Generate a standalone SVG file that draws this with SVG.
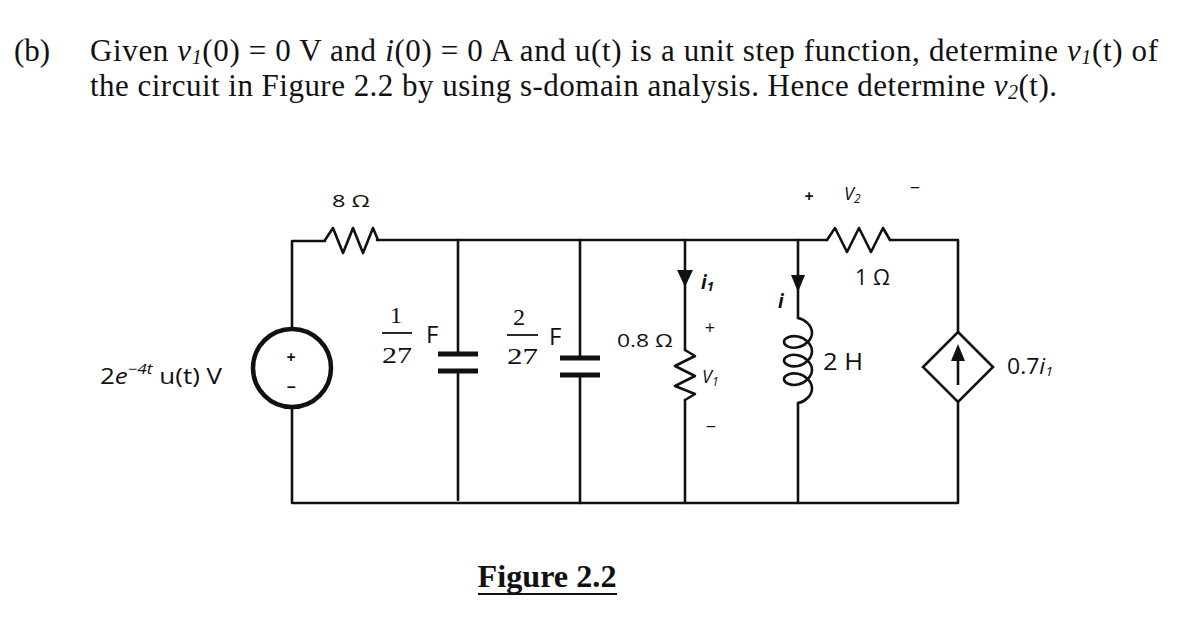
<svg xmlns="http://www.w3.org/2000/svg" width="1193" height="633" viewBox="0 0 1193 633">
<style>
.w{fill:none;stroke:#111;stroke-width:2.6;stroke-linejoin:round;stroke-linecap:round}
.plate{stroke:#111;stroke-width:5;stroke-linecap:butt}
.ah{fill:#111;stroke:none}
.t{font-family:"Liberation Serif","Times New Roman",serif;fill:#111}
.s{font-family:"Open Sans","Liberation Sans",Arial,sans-serif;fill:#111}
.m{font-family:"Liberation Serif","Times New Roman",serif;fill:#111}
</style>
<rect width="1193" height="633" fill="#fff"/>

<g id="title">
<text class="t" x="14" y="61" font-size="31">(b)</text>
<text class="t" x="90" y="61" font-size="31" textLength="1068" lengthAdjust="spacing">Given <tspan font-style="italic">v</tspan><tspan font-style="italic" font-size="20" dy="3">1</tspan><tspan dy="-3">(0) = 0 V and </tspan><tspan font-style="italic">i</tspan>(0) = 0 A and u(t) is a unit step function, determine <tspan font-style="italic">v</tspan><tspan font-style="italic" font-size="20" dy="3">1</tspan><tspan dy="-3">(t) of</tspan></text>
<text class="t" x="90" y="96" font-size="31" textLength="967" lengthAdjust="spacing">the circuit in Figure 2.2 by using s-domain analysis. Hence determine <tspan font-style="italic">v</tspan><tspan font-style="italic" font-size="20" dy="3">2</tspan><tspan dy="-3">(t).</tspan></text>
</g>

<g id="connectors">
<path class="w" d="M292,329 V241 H325"/>
<path class="w" d="M377,240 H827"/>
<path class="w" d="M890,240 H958 V332"/>
<path class="w" d="M958,402 V503 H292 V407"/>
<path class="w" d="M458,240 V353"/>
<path class="w" d="M458,372 V500"/>
<path class="w" d="M580,240 V357"/>
<path class="w" d="M580,376 V503"/>
<path class="w" d="M685,240 V350"/>
<path class="w" d="M685,400 V503"/>
<path class="w" d="M798,240 V318"/>
<path class="w" d="M798,403 V503"/>
</g>

<g id="source">
<circle cx="292" cy="368" r="39" fill="none" stroke="#111" stroke-width="4.5"/>
<text class="s" x="291" y="363" font-size="16" font-weight="bold" text-anchor="middle">+</text>
<text class="s" x="291" y="393" font-size="16" font-weight="bold" text-anchor="middle">−</text>
<text class="s" x="100" y="384" font-size="21" textLength="122" lengthAdjust="spacingAndGlyphs">2<tspan font-style="italic">e</tspan><tspan font-size="14" font-style="italic" dy="-10">−4t</tspan><tspan dy="10"> u(t) V</tspan></text>
</g>

<g id="R8">
<path class="w" d="M325,240 L333,228 L343,253 L353,228 L363,253 L373,228 L378,240"/>
<text class="s" x="332" y="207" font-size="17" textLength="38" lengthAdjust="spacingAndGlyphs">8 Ω</text>
</g>

<g id="C1">
<line class="plate" x1="438" y1="354" x2="478" y2="354"/>
<line class="plate" x1="438" y1="371" x2="478" y2="371"/>
<text class="m" x="396" y="323" font-size="24" text-anchor="middle">1</text>
<line x1="382" y1="333" x2="412" y2="333" stroke="#111" stroke-width="1.8"/>
<text class="m" x="382" y="363" font-size="24" textLength="30" lengthAdjust="spacingAndGlyphs">27</text>
<text class="s" x="426" y="343" font-size="24">F</text>
</g>

<g id="C2">
<line class="plate" x1="560" y1="358" x2="600" y2="358"/>
<line class="plate" x1="560" y1="375" x2="600" y2="375"/>
<text class="m" x="519" y="325" font-size="24" text-anchor="middle">2</text>
<line x1="507" y1="335" x2="538" y2="335" stroke="#111" stroke-width="1.8"/>
<text class="m" x="507" y="364" font-size="24" textLength="31" lengthAdjust="spacingAndGlyphs">27</text>
<text class="s" x="549" y="345" font-size="24">F</text>
</g>

<g id="R08">
<path class="w" d="M685,350 L695,356 L675,366 L695,376 L675,386 L695,394 L685,400"/>
<polygon class="ah" points="677,270 693,270 685,287"/>
<text class="s" x="617" y="347" font-size="19" textLength="56" lengthAdjust="spacingAndGlyphs">0.8 Ω</text>
<text class="s" x="701" y="289" font-size="19" font-style="italic" font-weight="bold">i<tspan font-size="13" dy="2">1</tspan></text>
<text class="s" x="710" y="334" font-size="18" text-anchor="middle">+</text>
<text class="s" x="702" y="383" font-size="18" font-style="italic">V<tspan font-size="12" dy="3">1</tspan></text>
<text class="s" x="711" y="433" font-size="18" text-anchor="middle">−</text>
</g>

<g id="L2">
<path class="w" d="M798,318 C805.33,319.55 812,325.86 812,332.65 C812,339.44 805.33,345.75 798,347.3 C790.67,348.85 784,345.64 784,341.95 C784,338.26 790.67,335.05 798,336.6 C805.33,338.15 812,344.46 812,351.25 C812,358.04 805.33,364.35 798,365.9 C790.67,367.45 784,364.24 784,360.55 C784,356.86 790.67,353.65 798,355.2 C805.33,356.75 812,363.06 812,369.85 C812,376.64 805.33,382.95 798,384.5 C790.67,386.05 784,382.84 784,379.15 C784,375.46 790.67,372.25 798,373.8 C805.33,375.35 812,381.66 812,388.45 C812,395.24 805.33,401.55 798,403.1"/>
<polygon class="ah" points="791,275 805,275 798,292"/>
<text class="s" x="778" y="308" font-size="19" font-style="italic" font-weight="bold">i</text>
<text class="s" x="823" y="370" font-size="24" textLength="40" lengthAdjust="spacingAndGlyphs">2 H</text>
</g>

<g id="R1">
<path class="w" d="M827,240 L835,228 L847,252 L859,228 L871,252 L883,228 L890,240"/>
<text class="s" x="855" y="285" font-size="21" textLength="35" lengthAdjust="spacingAndGlyphs">1 Ω</text>
<text class="s" x="809" y="202" font-size="16" font-weight="bold" text-anchor="middle">+</text>
<text class="s" x="844" y="200" font-size="18" font-style="italic">V<tspan font-size="12" dy="3">2</tspan></text>
<text class="s" x="915" y="194" font-size="18" text-anchor="middle">−</text>
</g>

<g id="CCCS">
<polygon points="958,332 993,367 958,402 923,367" fill="none" stroke="#111" stroke-width="2.6" stroke-linejoin="miter"/>
<line x1="958" y1="385" x2="958" y2="358" stroke="#111" stroke-width="2.6"/>
<polygon class="ah" points="951,361 965,361 958,344"/>
<text class="s" x="1007" y="374" font-size="21" textLength="46" lengthAdjust="spacingAndGlyphs">0.7<tspan font-style="italic">i</tspan><tspan font-size="13" font-style="italic" dy="2">1</tspan></text>
</g>

<g id="caption">
<text class="t" x="547" y="587" font-size="31" font-weight="bold" text-anchor="middle" textLength="139" lengthAdjust="spacingAndGlyphs">Figure 2.2</text>
<line x1="478" y1="594" x2="617" y2="594" stroke="#111" stroke-width="2.2"/>
</g>
</svg>
